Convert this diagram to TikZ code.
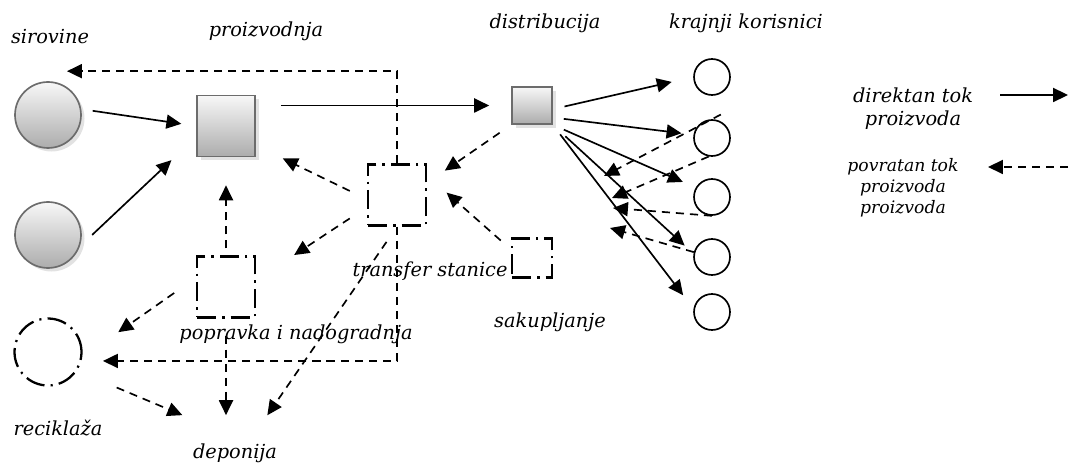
\documentclass[tikz,border=0pt]{standalone}
\usepackage{fontspec}
\setmainfont{DejaVu Serif}
\usepackage{tikz}
\usetikzlibrary{arrows.meta,shadows}

\begin{document}
\begin{tikzpicture}[x=0.02cm,y=-0.02cm,>={Triangle[length=8.5pt,width=8pt]},line width=0.95pt,
                    font=\fontsize{11}{13}\selectfont\itshape,inner sep=2pt]
  \tikzstyle{source}=[circle,minimum size=1.32cm,draw=gray!85!black,
                      top color=gray!6,bottom color=gray!65,
                      drop shadow={shadow xshift=2pt,shadow yshift=-2pt,fill=gray!45}]
  \tikzstyle{plant}=[source,rectangle,minimum width=1.16cm,minimum height=1.22cm]
  \tikzstyle{user}=[circle,draw,minimum size=0.72cm]
  \tikzstyle{hub}=[rectangle,draw,line width=1.3pt,minimum width=1.16cm,minimum height=1.22cm,
                   dash pattern=on 11pt off 3.5pt on 1.2pt off 3.5pt]
  \tikzstyle{fwd}=[->]
  \tikzstyle{back}=[->,dash pattern=on 4.6pt off 3.4pt]

  \useasboundingbox (0,0) rectangle (1070,465);

  % sirovine, proizvodnja, distribucija
  \node[source] (s1) at (48,115) {};
  \node[source] (s2) at (48,235) {};
  \node[plant]  (prod) at (226,126) {};
  \node[plant,minimum width=0.8cm,minimum height=0.74cm] (dist) at (532,105.5) {};

  % krajnji korisnici
  \node[user] (c1) at (712,77) {};
  \node[user] (c2) at (712,138) {};
  \node[user] (c3) at (712,197) {};
  \node[user] (c4) at (712,257) {};
  \node[user] (c5) at (712,312) {};

  % povratni tokovi
  \node[hub] (trans) at (397,195) {};
  \node[hub,minimum width=0.8cm,minimum height=0.78cm] (coll) at (532,258) {};
  \node[hub] (rep) at (226,287) {};
  \node[hub,circle,minimum size=1.34cm] (rec) at (48,352) {};

  % natpisi
  \node (tsrc)  at (50,37)   {sirovine};
  \node (tprod) at (266,31)  {proizvodnja};
  \node (tdist) at (545,23)  {distribucija};
  \node (tuser) at (746,23)  {krajnji korisnici};
  \node (ttrans) at (430,271) {transfer stanice};
  \node (tcoll) at (550,322) {sakupljanje};
  \node (trep)  at (296,334) {popravka i nadogradnja};
  \node (trec)  at (58,428)  {reciklaža};
  \node (depo)  at (235,453) {deponija};

  % legenda
  \node[align=center] (leg1) at (913,109) {direktan tok\\proizvoda};
  \node[align=center,font=\fontsize{9.8}{12}\selectfont\itshape] (leg2) at (903,188)
       {povratan tok\\proizvoda\\proizvoda};
  \coordinate (l1a) at (1000,95);
  \coordinate (l1b) at (1068,95);
  \coordinate (l2a) at (1068,167);
  \coordinate (l2b) at (988,167);

  % slobodni krajevi povratnih strelica
  \coordinate (r1) at (604,176);
  \coordinate (r2) at (612,198);
  \coordinate (r3) at (613,208);
  \coordinate (r4) at (610,228);

  % direktan tok
  \draw[fwd,shorten <=0.23cm,shorten >=0.3cm] (s1.10) -- (prod.west);
  \draw[fwd,shorten <=0.34cm,shorten >=0.68cm] (s2.-20) -- (prod.-160);
  \draw[fwd,shorten <=0.5cm,shorten >=0.44cm] (prod.east |- dist.west) -- (dist.west);
  \draw[fwd,shorten <=0.24cm,shorten >=0.44cm] (dist.-10) -- (c1.west);
  \draw[fwd,shorten <=0.22cm,shorten >=0.24cm] (dist.-30) -- (c2.170);
  \draw[fwd,shorten <=0.24cm,shorten >=0.28cm] (dist.south east) -- (c3.150);
  \draw[fwd,shorten <=0.34cm,shorten >=0.24cm] (dist.south east) -- (c4.170);
  \draw[fwd,shorten <=0.24cm,shorten >=0.34cm] (dist.south east) -- (c5.170);
  \draw[fwd] (l1a) -- (l1b);

  % povratan tok
  \draw[back,shorten <=-0.2cm] (c2.north) -- (r1);
  \draw[back] (c2.-100) -- (r2);
  \draw[back] (c3.south) -- (r3);
  \draw[back] (c4.165) -- (r4);
  \draw[back,shorten <=0.28cm,shorten >=0.43cm] (dist.south west) -- (trans.22);
  \draw[back,shorten <=0.27cm,shorten >=0.52cm] (coll.158) -- (trans.33);
  \draw[back,shorten <=0.38cm,shorten >=0.6cm] (trans.188) -- (prod.-33);
  \draw[back,shorten <=0.41cm,shorten >=0.91cm] (trans.202) -- (rep.13);
  \draw[back] (trans.north) |- ([xshift=0.38cm,yshift=0.2cm]s1.north);
  \draw[back,shorten >=0.43cm] (trans.south) |- (rec.-15);
  \draw[back,shorten <=0.37cm,shorten >=0.58cm] (trans.south) -- (depo.41);
  \draw[back,shorten <=0.14cm,shorten >=0.56cm] (rep.north) -- (prod.south);
  \draw[back,shorten <=0.53cm,shorten >=0.88cm] (rep.163) -- (rec.-9);
  \draw[back,shorten <=0.34cm,shorten >=0.48cm] (rep.south) -- (rep.south |- depo.north);
  \draw[back,shorten <=0.86cm,shorten >=1.24cm] (rec.-33) -- (depo.72);
  \draw[back] (l2a) -- (l2b);
\end{tikzpicture}
\end{document}
